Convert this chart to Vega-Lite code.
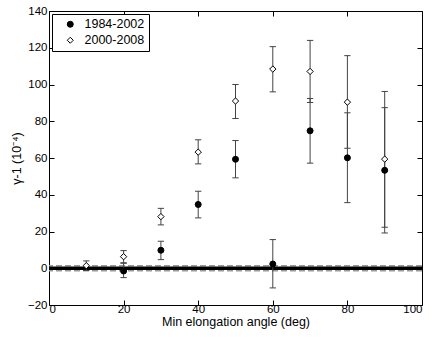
{
  "$schema": "https://vega.github.io/schema/vega-lite/v6.json",
  "autosize": {"type": "none"},
  "width": 373,
  "height": 294,
  "padding": {"left": 49, "top": 11, "right": 14, "bottom": 32},
  "background": "white",
  "config": {
    "view": {"stroke": "black", "strokeWidth": 1},
    "font": "Liberation Sans",
    "axis": {"grid": false, "domainColor": "black", "tickColor": "black", "labelColor": "black", "titleColor": "black", "labelFontSize": 11.5, "titleFontSize": 12.5, "titleFontWeight": "normal", "labelFont": "Liberation Sans", "titleFont": "Liberation Sans"}
  },
  "datasets": {
    "pts": [
      {"series": "1984-2002", "x": 20, "y": -1.5, "lo": -5.1, "hi": 2.7},
      {"series": "1984-2002", "x": 30, "y": 9.8, "lo": 4.7, "hi": 14.7},
      {"series": "1984-2002", "x": 40, "y": 34.7, "lo": 27.4, "hi": 41.9},
      {"series": "1984-2002", "x": 50, "y": 59.3, "lo": 49.2, "hi": 69.5},
      {"series": "1984-2002", "x": 60, "y": 2.3, "lo": -10.7, "hi": 15.6},
      {"series": "1984-2002", "x": 70, "y": 74.8, "lo": 57.2, "hi": 92.4},
      {"series": "1984-2002", "x": 80, "y": 60.1, "lo": 35.7, "hi": 84.6},
      {"series": "1984-2002", "x": 90, "y": 53.3, "lo": 19.2, "hi": 87.4},
      {"series": "2000-2008", "x": 10, "y": 1.4, "lo": -1.2, "hi": 4.0},
      {"series": "2000-2008", "x": 20, "y": 6.3, "lo": 3.0, "hi": 9.6},
      {"series": "2000-2008", "x": 30, "y": 28.1, "lo": 23.6, "hi": 32.6},
      {"series": "2000-2008", "x": 40, "y": 63.2, "lo": 56.8, "hi": 69.9},
      {"series": "2000-2008", "x": 50, "y": 91.0, "lo": 81.5, "hi": 100.0},
      {"series": "2000-2008", "x": 60, "y": 108.4, "lo": 96.0, "hi": 120.6},
      {"series": "2000-2008", "x": 70, "y": 107.1, "lo": 90.2, "hi": 124.0},
      {"series": "2000-2008", "x": 80, "y": 90.4, "lo": 65.3, "hi": 115.7},
      {"series": "2000-2008", "x": 90, "y": 59.4, "lo": 22.3, "hi": 96.2}
    ],
    "zero": [{"y": 0}],
    "band": [{"y": 1.4}, {"y": -1.4}]
  },
  "layer": [
    {
      "data": {"name": "band"},
      "mark": {"type": "rule", "stroke": "#999999", "strokeWidth": 1.5, "strokeDash": [6, 3]},
      "encoding": {
        "y": {"field": "y", "type": "quantitative", "scale": {"domain": [-20, 140], "nice": false}, "axis": null}
      }
    },
    {
      "data": {"name": "zero"},
      "mark": {"type": "rule", "stroke": "black", "strokeWidth": 3.5},
      "encoding": {
        "y": {"field": "y", "type": "quantitative", "axis": null}
      }
    },
    {
      "data": {"name": "pts"},
      "mark": {"type": "point", "shape": "M -1 0 L 1 0", "size": 40, "stroke": "#444444", "strokeWidth": 1, "filled": false, "opacity": 1},
      "encoding": {
        "x": {"field": "x", "type": "quantitative", "scale": {"domain": [0, 100], "nice": false}, "axis": null},
        "y": {"field": "lo", "type": "quantitative", "axis": null}
      }
    },
    {
      "data": {"name": "pts"},
      "mark": {"type": "point", "shape": "M -1 0 L 1 0", "size": 40, "stroke": "#444444", "strokeWidth": 1, "filled": false, "opacity": 1},
      "encoding": {
        "x": {"field": "x", "type": "quantitative", "axis": null},
        "y": {"field": "hi", "type": "quantitative", "axis": null}
      }
    },
    {
      "data": {"name": "pts"},
      "mark": {"type": "rule", "stroke": "#444444", "strokeWidth": 1},
      "encoding": {
        "x": {"field": "x", "type": "quantitative", "scale": {"domain": [0, 100], "nice": false},
              "axis": {"orient": "top", "labels": false, "title": null, "tickSize": -5, "values": [0, 20, 40, 60, 80, 100], "domain": false}},
        "y": {"field": "lo", "type": "quantitative", "scale": {"domain": [-20, 140], "nice": false},
              "axis": {"orient": "right", "labels": false, "title": null, "tickSize": -5, "values": [-20, 0, 20, 40, 60, 80, 100, 120, 140], "domain": false}},
        "y2": {"field": "hi"}
      }
    },
    {
      "data": {"name": "pts"},
      "mark": {"type": "point", "filled": true, "strokeWidth": 1, "opacity": 1},
      "encoding": {
        "x": {"field": "x", "type": "quantitative", "scale": {"domain": [0, 100], "nice": false},
              "axis": {"orient": "bottom", "title": "Min elongation angle (deg)", "tickSize": -5, "labelPadding": 3, "titlePadding": 1, "values": [0, 20, 40, 60, 80, 100], "domain": false}},
        "y": {"field": "y", "type": "quantitative", "scale": {"domain": [-20, 140], "nice": false},
              "axis": {"orient": "left", "title": "γ-1 (10⁻⁴)", "tickSize": -5, "labelPadding": 7, "titlePadding": 4, "values": [-20, 0, 20, 40, 60, 80, 100, 120, 140], "domain": false}},
        "shape": {"field": "series", "type": "nominal", "scale": {"domain": ["1984-2002", "2000-2008"], "range": ["circle", "diamond"]},
                  "legend": {"title": null, "orient": "top-left", "offset": 3, "strokeColor": "black", "fillColor": "white", "padding": 4, "labelFontSize": 12.5, "labelFont": "Liberation Sans", "symbolSize": 36, "symbolStrokeWidth": 1, "symbolOffset": 8, "rowPadding": 3, "labelOffset": 8, "cornerRadius": 0, "labelColor": "black"}},
        "fill": {"field": "series", "type": "nominal", "scale": {"domain": ["1984-2002", "2000-2008"], "range": ["black", "white"]},
                 "legend": {"title": null, "orient": "top-left"}},
        "stroke": {"field": "series", "type": "nominal", "scale": {"domain": ["1984-2002", "2000-2008"], "range": ["black", "black"]},
                 "legend": {"title": null, "orient": "top-left"}},
        "size": {"condition": {"test": "datum.series === '1984-2002'", "value": 36}, "value": 40}
      }
    }
  ],
  "resolve": {"axis": {"x": "independent", "y": "independent"}}
}
